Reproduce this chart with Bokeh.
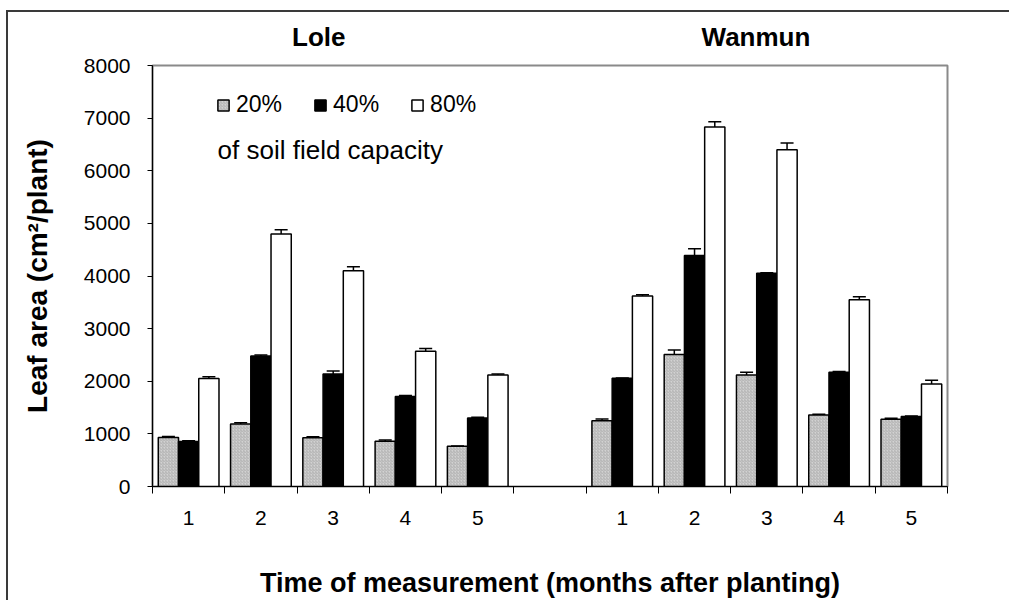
from bokeh.plotting import figure
from bokeh.models import (Range1d, FixedTicker, Whisker, TeeHead, ColumnDataSource,
                          Legend, LegendItem, Label, LinearAxis)
from bokeh.embed import file_html
from bokeh.resources import INLINE

# ---- data -------------------------------------------------------------
sites = ["Lole", "Wanmun"]
months = ["1", "2", "3", "4", "5"]
levels = ["20%", "40%", "80%"]

# leaf area (cm2/plant), per site, months 1..5
lole_20 = [930, 1190, 925, 860, 765]
lole_40 = [855, 2480, 2140, 1710, 1300]
lole_80 = [2050, 4800, 4100, 2570, 2120]
wanmun_20 = [1250, 2510, 2120, 1360, 1280]
wanmun_40 = [2055, 4390, 4050, 2170, 1330]
wanmun_80 = [3620, 6830, 6400, 3550, 1950]

# standard errors
lole_20_se = [20, 20, 20, 25, 0]
lole_40_se = [15, 20, 55, 20, 15]
lole_80_se = [35, 80, 75, 50, 20]
wanmun_20_se = [35, 85, 50, 15, 15]
wanmun_40_se = [0, 130, 10, 15, 10]
wanmun_80_se = [25, 100, 125, 55, 70]

y_ticks = [0, 1000, 2000, 3000, 4000, 5000, 6000, 7000, 8000]

FONT = "Liberation Sans"

# month slots on a numeric axis: Lole at 1..5, an empty slot at 6, Wanmun at 7..11
slot = [1, 2, 3, 4, 5]
slot_w = [s + 6 for s in slot]
x_all = slot + slot_w

bar_w = 0.28
offsets = [-bar_w, 0.0, bar_w]

series = [
    (lole_20 + wanmun_20, lole_20_se + wanmun_20_se),
    (lole_40 + wanmun_40, lole_40_se + wanmun_40_se),
    (lole_80 + wanmun_80, lole_80_se + wanmun_80_se),
]

styles = [
    dict(fill_color="#d2d2d2", hatch_pattern="right_diagonal_line", hatch_color="#9c9c9c",
         hatch_scale=3, hatch_weight=0.6),
    dict(fill_color="black"),
    dict(fill_color="white"),
]

# the figure sits inside a page frame drawn with CSS (left and top edges)
p = figure(width=1001, height=598, output_backend="svg", toolbar_location=None,
           x_range=Range1d(0.5, 11.5), y_range=Range1d(0, 8000),
           frame_width=795, frame_height=421,
           min_border_left=144, min_border_right=62, min_border_top=53, min_border_bottom=112,
           background_fill_color="white", border_fill_color="white",
           styles={"border-left": "2px solid #3a3a3a", "border-top": "2px solid #3a3a3a",
                   "margin-left": "6px", "margin-top": "10px"})

p.xgrid.visible = False
p.ygrid.visible = False
p.outline_line_color = "#8a8a8a"
p.outline_line_width = 2

renderers = []
for (vals, se), off, st in zip(series, offsets, styles):
    xs = [x + off for x in x_all]
    src = ColumnDataSource(dict(x=xs, top=vals,
                                upper=[v + e for v, e in zip(vals, se)],
                                lower=[v - e for v, e in zip(vals, se)]))
    r = p.vbar(x="x", top="top", width=bar_w, bottom=0, source=src,
               line_color="black", line_width=1.5, **st)
    renderers.append(r)
    p.add_layout(Whisker(source=src, base="x", upper="upper", lower="lower",
                         line_color="black", line_width=1.5,
                         upper_head=TeeHead(size=13, line_width=1.5, line_color="black"),
                         lower_head=TeeHead(size=13, line_width=1.5, line_color="black")))

# ---- axes ---------------------------------------------------------------
xa = p.xaxis[0]
xa.ticker = FixedTicker(ticks=x_all, minor_ticks=[i + 0.5 for i in range(12)])
xa.major_label_overrides = {x: m for x, m in zip(x_all, months + months)}
xa.major_tick_out = 0
xa.major_tick_in = 0
xa.minor_tick_out = 7
xa.minor_tick_in = 0
xa.minor_tick_line_color = "black"
xa.axis_line_color = "black"
xa.axis_line_width = 1.2
xa.major_label_text_font = FONT
xa.major_label_text_font_size = "21px"
xa.major_label_text_color = "black"
xa.major_label_standoff = 17
xa.axis_label = "Time of measurement (months after planting)"
xa.axis_label_text_font = FONT
xa.axis_label_text_font_size = "27px"
xa.axis_label_text_font_style = "bold"
xa.axis_label_text_color = "black"
xa.axis_label_standoff = 40

ya = p.yaxis[0]
ya.ticker = FixedTicker(ticks=y_ticks)
ya.major_tick_out = 5
ya.major_tick_in = 0
ya.minor_tick_out = 0
ya.minor_tick_in = 0
ya.axis_line_color = "black"
ya.axis_line_width = 1.2
ya.major_label_text_font = FONT
ya.major_label_text_font_size = "21px"
ya.major_label_text_color = "black"
ya.major_label_standoff = 17
ya.axis_label = "Leaf area (cm\u00b2/plant)"
ya.axis_label_text_font = FONT
ya.axis_label_text_font_size = "28px"
ya.axis_label_text_font_style = "bold"
ya.axis_label_text_color = "black"
ya.axis_label_standoff = 28

# site headings as an unlined axis above the frame
site_x = [2.8, 8.85]
top_axis = LinearAxis(ticker=FixedTicker(ticks=site_x),
                      major_label_overrides={x: s for x, s in zip(site_x, sites)},
                      axis_line_color=None, major_tick_line_color=None,
                      minor_tick_line_color=None, major_tick_out=0, major_tick_in=0,
                      major_label_standoff=14, major_label_text_font=FONT,
                      major_label_text_font_size="26px", major_label_text_font_style="bold",
                      major_label_text_color="black")
p.add_layout(top_axis, "above")

# ---- legend ---------------------------------------------------------------
legend = Legend(items=[LegendItem(label=lv, renderers=[r]) for lv, r in zip(levels, renderers)],
                orientation="horizontal", location=(64, 368),
                glyph_width=14, glyph_height=14, label_standoff=6, spacing=31,
                padding=0, margin=0, border_line_alpha=0, background_fill_alpha=0,
                label_text_font=FONT, label_text_font_size="23px", label_text_color="black")
p.add_layout(legend)

p.add_layout(Label(x=1.4, y=6385, text="of soil field capacity", text_font=FONT,
                   text_font_size="26px", text_color="black", text_baseline="alphabetic"))

open("out.html", "w").write(file_html(p, INLINE))
